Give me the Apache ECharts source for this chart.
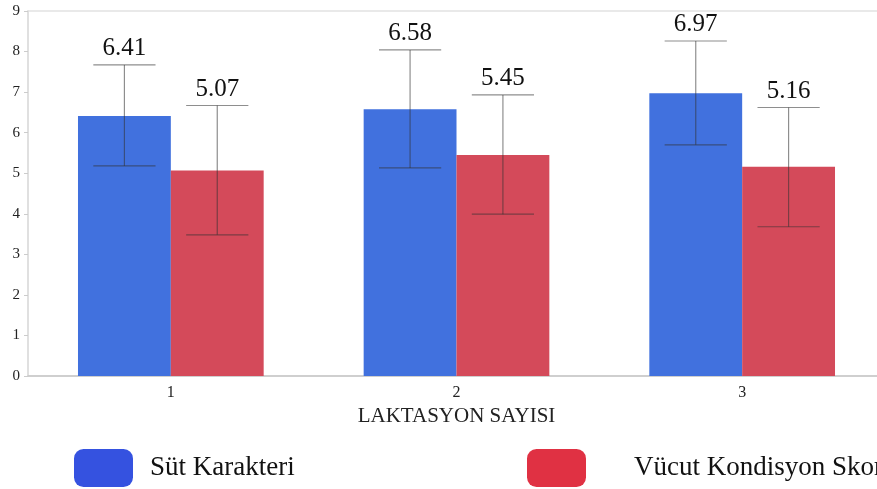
<!DOCTYPE html>
<html>
<head>
<meta charset="utf-8">
<script src="https://cdn.jsdelivr.net/npm/echarts@6/dist/echarts.min.js"></script>
<style>
  html, body { margin: 0; padding: 0; background: #fff; }
  #chart { width: 877px; height: 489px; }
</style>
</head>
<body>
<div id="chart"></div>
<script>
// laktasyon sayısı
const categories = ["1", "2", "3"];
// Süt Karakteri: ortalama, alt / üst hata çubuğu
const sutMean = [6.41, 6.58, 6.97];
const sutLow = [5.18, 5.13, 5.70];
const sutHigh = [7.67, 8.04, 8.26];
// Vücut Kondisyon Skoru
const vksMean = [5.07, 5.45, 5.16];
const vksLow = [3.48, 3.99, 3.68];
const vksHigh = [6.67, 6.93, 6.62];
const yTicks = [0, 1, 2, 3, 4, 5, 6, 7, 8, 9];

const serif = "'Liberation Serif', 'DejaVu Serif', serif";
const barBlue = "#4171de";
const barRed = "#d44a5a";

// hata çubuğu + etiket (side: -1 sol çubuk, 1 sağ çubuk)
function errorBar(side) {
  return function (params, api) {
    const band = api.size([1, 0])[0];
    const barW = band * 0.65 / 2;
    const cx = api.coord([api.value(0), 0])[0] + side * barW / 2;
    const lo = api.coord([api.value(0), api.value(1)])[1];
    const hi = api.coord([api.value(0), api.value(2)])[1];
    const cap = barW * 0.335;
    const st = { stroke: "rgba(50,50,50,0.55)", lineWidth: 1.2 };
    return {
      type: "group",
      children: [
        { type: "line", shape: { x1: cx, y1: hi, x2: cx, y2: lo }, style: st },
        { type: "line", shape: { x1: cx - cap, y1: hi, x2: cx + cap, y2: hi }, style: st },
        { type: "line", shape: { x1: cx - cap, y1: lo, x2: cx + cap, y2: lo }, style: st },
        {
          type: "text",
          x: cx,
          y: hi - 4,
          style: {
            text: api.value(3).toFixed(2),
            fontFamily: serif,
            fontSize: 25,
            fill: "#111",
            align: "center",
            verticalAlign: "bottom"
          }
        }
      ]
    };
  };
}

const myChart = echarts.init(document.getElementById("chart"));
myChart.setOption({
  animation: false,
  grid: {
    left: 28,
    right: -8,
    top: 11,
    bottom: 113,
    outerBoundsMode: "none",
    show: true,
    borderColor: "#e2e2e2",
    borderWidth: 1.5
  },
  legend: [
    {
      left: 74,
      top: 449,
      padding: 0,
      itemWidth: 59,
      itemHeight: 38,
      icon: "roundRect",
      selectedMode: false,
      textStyle: { fontFamily: serif, fontSize: 27, color: "#111", padding: [0, 0, 0, 12] },
      data: [{ name: "Süt Karakteri", itemStyle: { color: "#3552e0" } }]
    },
    {
      left: 527,
      top: 449,
      padding: 0,
      itemWidth: 59,
      itemHeight: 38,
      icon: "roundRect",
      selectedMode: false,
      textStyle: { fontFamily: serif, fontSize: 27, color: "#111", padding: [0, 0, 0, 43] },
      data: [{ name: "Vücut Kondisyon Skoru", itemStyle: { color: "#e03143" } }]
    }
  ],
  xAxis: {
    type: "category",
    data: categories,
    name: "LAKTASYON SAYISI",
    nameLocation: "middle",
    nameGap: 28,
    nameTextStyle: { fontFamily: serif, fontSize: 21, color: "#222" },
    axisLine: { lineStyle: { color: "#c8c8c8", width: 1.5 } },
    axisTick: { show: false },
    axisLabel: { fontFamily: serif, fontSize: 16, color: "#222", margin: 9 }
  },
  yAxis: {
    type: "value",
    min: yTicks[0],
    max: yTicks[yTicks.length - 1],
    interval: 1,
    axisLine: { show: true, lineStyle: { color: "#dcdcdc", width: 1.5 } },
    axisTick: { show: true, length: 4, lineStyle: { color: "#cccccc" } },
    axisLabel: { fontFamily: serif, fontSize: 15, color: "#222", margin: 8 },
    splitLine: { show: false }
  },
  series: [
    {
      name: "Süt Karakteri",
      type: "bar",
      data: sutMean,
      barGap: "0%",
      barCategoryGap: "35%",
      itemStyle: { color: barBlue }
    },
    {
      name: "Vücut Kondisyon Skoru",
      type: "bar",
      data: vksMean,
      barGap: "0%",
      barCategoryGap: "35%",
      itemStyle: { color: barRed }
    },
    {
      type: "custom",
      z: 10,
      renderItem: errorBar(-1),
      encode: { x: 0, y: [1, 2] },
      data: categories.map((c, i) => [i, sutLow[i], sutHigh[i], sutMean[i]])
    },
    {
      type: "custom",
      z: 10,
      renderItem: errorBar(1),
      encode: { x: 0, y: [1, 2] },
      data: categories.map((c, i) => [i, vksLow[i], vksHigh[i], vksMean[i]])
    }
  ]
});
window.onresize = myChart.resize;
</script>
</body>
</html>
